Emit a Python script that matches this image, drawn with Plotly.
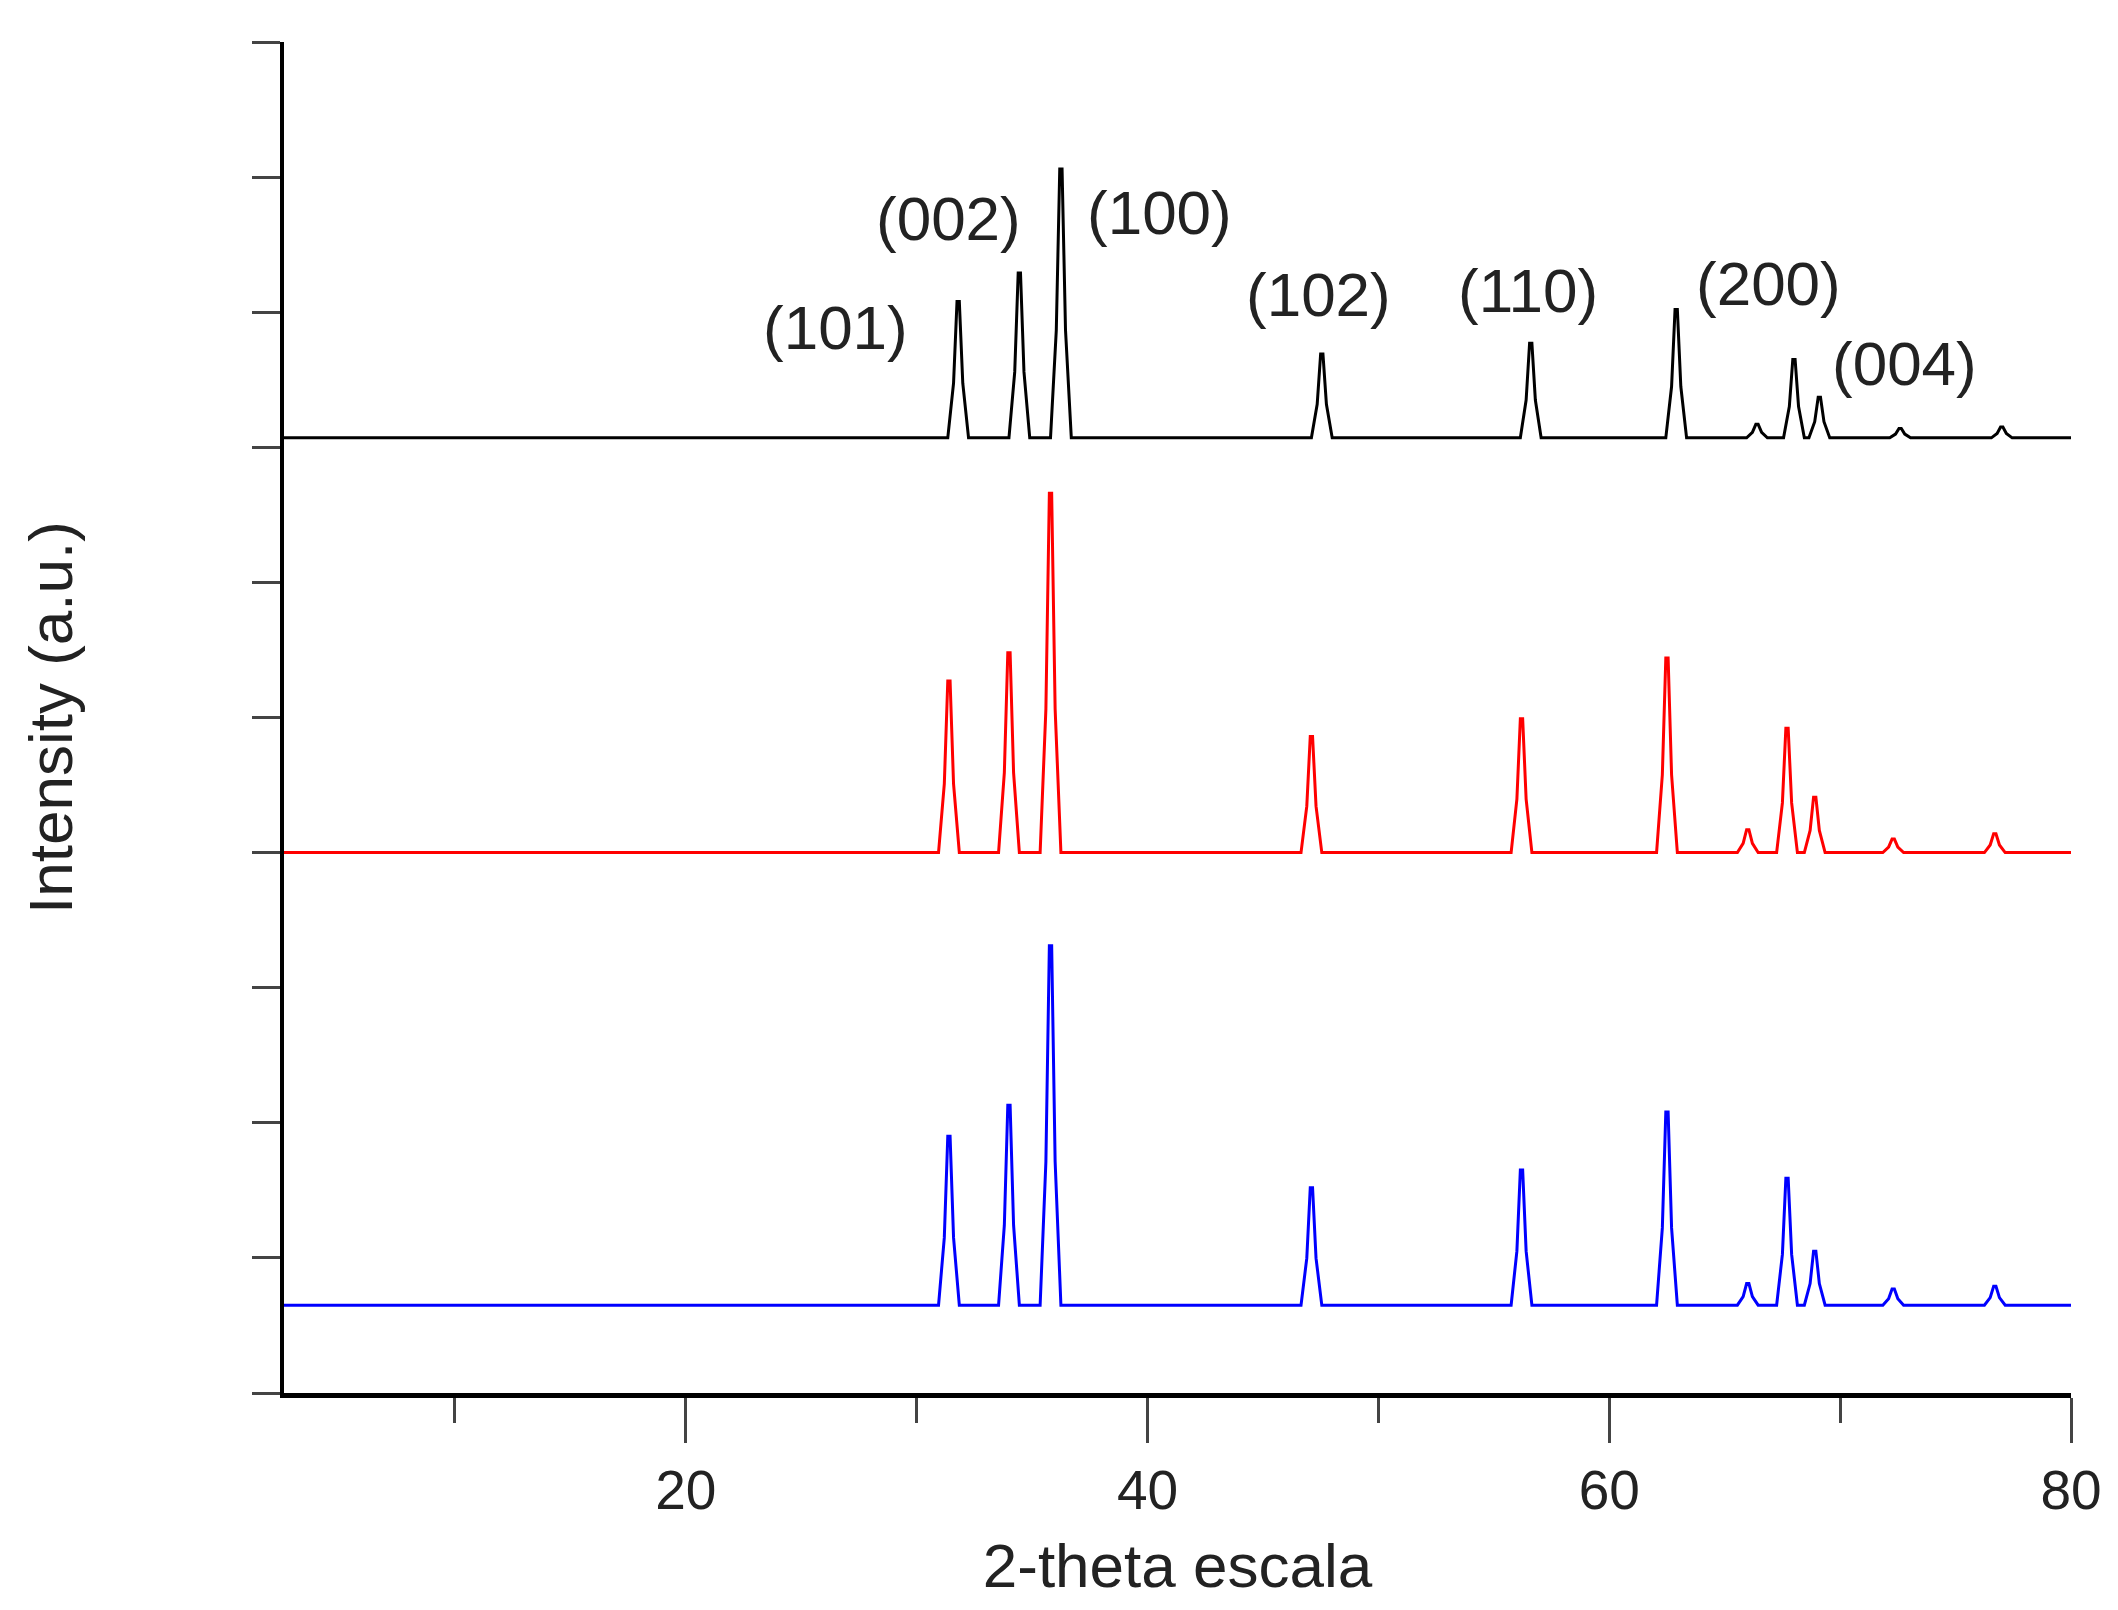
import plotly.graph_objects as go

peak_pos_black = [31.8, 34.45, 36.25, 47.55, 56.6, 62.9, 66.4, 68.0, 69.1, 72.6, 77.0]
peak_h_black = [8.08, 8.29, 9.06, 7.69, 7.77, 8.02, 7.17, 7.65, 7.37, 7.14, 7.15]
base_black = 7.07

peak_pos_red = [31.4, 34.0, 35.8, 47.1, 56.2, 62.5, 66.0, 67.7, 68.9, 72.3, 76.7]
peak_h_red = [5.27, 5.48, 6.66, 4.86, 4.99, 5.44, 4.17, 4.92, 4.41, 4.10, 4.14]
base_red = 4.0

peak_pos_blue = [31.4, 34.0, 35.8, 47.1, 56.2, 62.5, 66.0, 67.7, 68.9, 72.3, 76.7]
peak_h_blue = [1.90, 2.13, 3.31, 1.52, 1.65, 2.08, 0.81, 1.59, 1.05, 0.77, 0.79]
base_blue = 0.65

labels = ["(101)", "(002)", "(100)", "(102)", "(110)", "(200)", "(004)"]
label_x = [26.5, 31.4, 40.5, 47.4, 56.5, 66.9, 72.8]
label_y = [7.89, 8.69, 8.74, 8.13, 8.16, 8.21, 7.62]

def profile(pos, h, base, x0=2.6, x1=80):
    xs, ys = [x0], [base]
    for p, v in zip(pos, h):
        xs += [p - 0.45, p - 0.2, p - 0.05, p + 0.05, p + 0.2, p + 0.45]
        ys += [base, base + (v - base) * 0.4, v, v, base + (v - base) * 0.4, base]
    xs.append(x1); ys.append(base)
    return xs, ys

fig = go.Figure()
for pos, h, base, col in [(peak_pos_black, peak_h_black, base_black, "black"),
                          (peak_pos_red, peak_h_red, base_red, "red"),
                          (peak_pos_blue, peak_h_blue, base_blue, "blue")]:
    xs, ys = profile(pos, h, base)
    fig.add_trace(go.Scatter(x=xs, y=ys, mode="lines", line=dict(color=col, width=3), showlegend=False))

for t, x, y in zip(labels, label_x, label_y):
    fig.add_annotation(x=x, y=y, text=t, showarrow=False, font=dict(size=62, color="#222"))

fig.update_layout(
    width=2118, height=1610, plot_bgcolor="white", paper_bgcolor="white",
    margin=dict(l=276, r=55, t=34, b=225),
    font=dict(family="Liberation Sans, Arial", color="#222"),
    xaxis=dict(range=[2.6, 80], tickvals=[20, 40, 60, 80], ticks="outside", ticklen=45, tickwidth=3,
               showline=True, linewidth=5, linecolor="black", showgrid=False, zeroline=False,
               tickfont=dict(size=55), minor=dict(tickvals=[10, 30, 50, 70], ticks="outside", ticklen=25, tickwidth=3),
               title=dict(text="2-theta escala", font=dict(size=62), standoff=25)),
    yaxis=dict(range=[0, 10], tickvals=list(range(0, 11)), ticks="outside", ticklen=28, tickwidth=3,
               showticklabels=False, showline=True, linewidth=4, linecolor="black", showgrid=False, zeroline=False,
               title=dict(text="Intensity (a.u.)", font=dict(size=62), standoff=160)),
)
fig.write_html("out.html")
